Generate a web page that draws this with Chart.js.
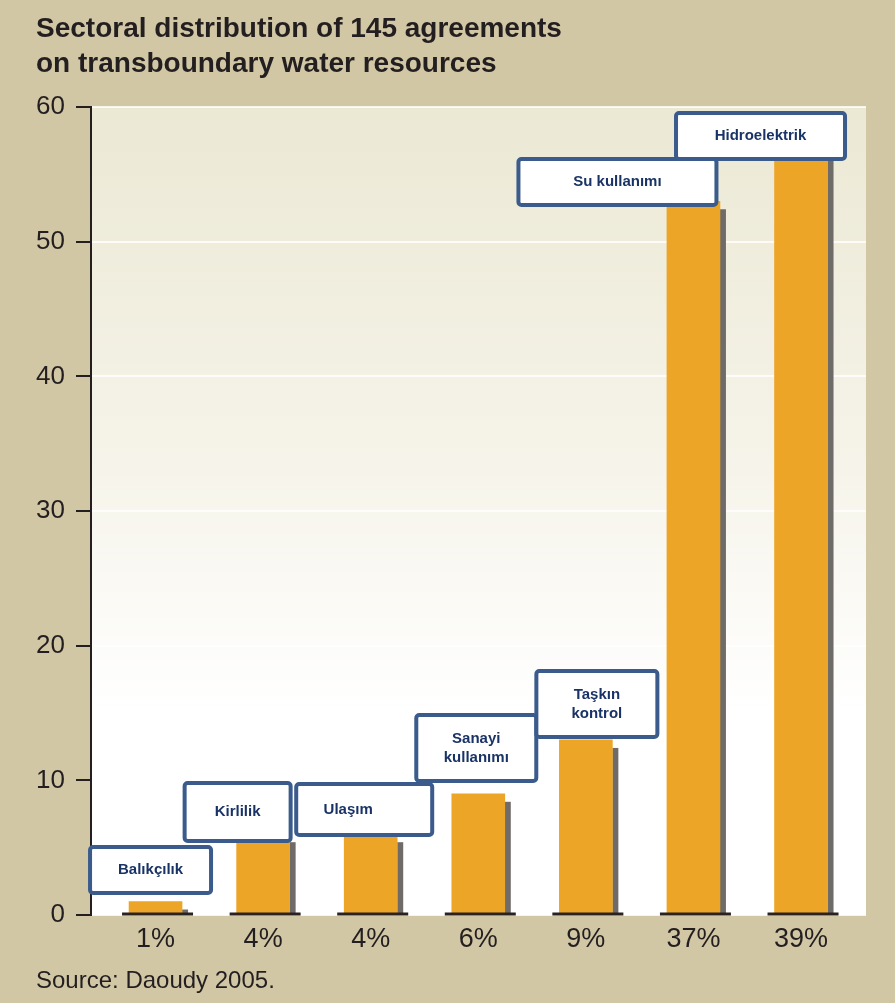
<!DOCTYPE html>
<html>
<head>
<meta charset="utf-8">
<script src="https://cdn.jsdelivr.net/npm/chart.js@4.4.1/dist/chart.umd.min.js"></script>
<style>
  body { margin: 0; background: #d2c7a5; }
  canvas { display: block; }
</style>
</head>
<body>
<canvas id="chart" width="895" height="1003"></canvas>
<script>
// データ
const sectors = ["Balıkçılık", "Kirlilik", "Ulaşım", ["Sanayi", "kullanımı"], ["Taşkın", "kontrol"], "Su kullanımı", "Hidroelektrik"];
const agreements = [1, 6, 6, 9, 13, 53, 57];
const shares = ["1%", "4%", "4%", "6%", "9%", "37%", "39%"];
const yTicks = [0, 10, 20, 30, 40, 50, 60];
const titleLines = ["Sectoral distribution of 145 agreements", "on transboundary water resources"];
const sourceText = "Source: Daoudy 2005.";

// ラベル枠の位置（棒の中心・上端からのオフセット）
const boxLayout = [
  { dx: -67.5, dy: -56.5, w: 125, h: 50 },
  { dx: -80.5, dy: -53.2, w: 110, h: 62 },
  { dx: -76.5, dy: -52.2, w: 140, h: 55, tx: 54 },
  { dx: -64, dy: -80.8, w: 124, h: 70 },
  { dx: -51.5, dy: -70.9, w: 125, h: 70 },
  { dx: -177, dy: -44.3, w: 202, h: 50 },
  { dx: -127, dy: -36.4, w: 173, h: 50 }
];

const FONT = '"Liberation Sans", Arial, Helvetica, sans-serif';
const INK = "#231f20";

const decor = {
  id: "decor",
  beforeDraw(chart) {
    const { ctx, chartArea: a } = chart;
    ctx.save();
    ctx.fillStyle = "#d2c7a5";
    ctx.fillRect(0, 0, chart.width, chart.height);
    const g = ctx.createLinearGradient(0, a.top, 0, a.bottom);
    g.addColorStop(0, "#ebe8d4");
    g.addColorStop(0.45, "#f6f4ea");
    g.addColorStop(0.75, "#ffffff");
    ctx.fillStyle = g;
    ctx.fillRect(a.left, a.top, a.right - a.left, a.bottom - a.top);

    ctx.fillStyle = INK;
    ctx.textBaseline = "alphabetic";
    ctx.textAlign = "left";
    ctx.font = "bold 28px " + FONT;
    ctx.fillText(titleLines[0], 36, 37);
    ctx.fillText(titleLines[1], 36, 72);
    ctx.font = "24px " + FONT;
    ctx.fillText(sourceText, 36, 988);
    ctx.restore();
  },
  beforeDatasetsDraw(chart) {
    // 棒の影
    const ctx = chart.ctx;
    ctx.save();
    ctx.fillStyle = "#6f6b69";
    chart.getDatasetMeta(0).data.forEach((bar) => {
      const p = bar.getProps(["x", "y", "base", "width"], true);
      ctx.fillRect(p.x + p.width / 2, p.y + 8, 6, p.base - p.y - 8);
    });
    ctx.restore();
  },
  afterDatasetsDraw(chart) {
    const ctx = chart.ctx;
    ctx.save();
    const bars = chart.getDatasetMeta(0).data;
    // 棒の下の黒い線
    ctx.fillStyle = "#2a2220";
    bars.forEach((bar) => {
      const p = bar.getProps(["x", "y", "base", "width"], true);
      ctx.fillRect(p.x - p.width / 2 - 7, p.base - 1.5, p.width + 18, 3);
    });
    // セクター名の枠
    bars.forEach((bar, i) => {
      const p = bar.getProps(["x", "y"], true);
      const b = boxLayout[i];
      const left = p.x + b.dx, top = p.y + b.dy;
      ctx.beginPath();
      ctx.roundRect(left + 2, top + 2, b.w - 4, b.h - 4, 3);
      ctx.fillStyle = "#ffffff";
      ctx.fill();
      ctx.lineWidth = 4;
      ctx.strokeStyle = "#3a5b8b";
      ctx.stroke();
      const lines = Array.isArray(sectors[i]) ? sectors[i] : [sectors[i]];
      ctx.fillStyle = "#1a3366";
      ctx.font = "bold 15px " + FONT;
      ctx.textAlign = "center";
      ctx.textBaseline = "middle";
      const cx = b.tx !== undefined ? left + b.tx : left + b.w / 2;
      const cy = top + b.h / 2;
      lines.forEach((t, k) => {
        ctx.fillText(t, cx, cy + (k - (lines.length - 1) / 2) * 19);
      });
    });
    ctx.restore();
  }
};

const ctx = document.getElementById("chart");

new Chart(ctx, {
  type: "bar",
  data: {
    datasets: [
      {
        data: agreements.map((v, i) => ({ x: i, y: v })),
        backgroundColor: "#eda527",
        barThickness: 53,
        borderWidth: 0
      }
    ]
  },
  options: {
    responsive: false,
    animation: false,
    layout: { padding: { top: 107, right: 29, bottom: 0, left: 0 } },
    scales: {
      x: {
        type: "linear",
        offset: false,
        min: -0.6,
        max: 6.604,
        afterBuildTicks: (s) => { s.ticks = shares.map((_, i) => ({ value: i })); },
        afterFit: (s) => { s.height = 88; },
        grid: { display: false, drawTicks: false },
        border: { display: false },
        ticks: {
          callback: (v) => shares[v],
          font: { size: 27, family: FONT },
          color: INK,
          padding: 8,
          autoSkip: false,
          maxRotation: 0
        }
      },
      y: {
        min: 0,
        max: 60,
        afterBuildTicks: (s) => { s.ticks = yTicks.map((v) => ({ value: v })); },
        afterFit: (s) => { s.width = 91; },
        grid: { color: "rgba(255,255,255,0.8)", lineWidth: 2, tickColor: INK, tickWidth: 2, tickLength: 15 },
        border: { display: true, color: INK, width: 2 },
        ticks: { font: { size: 26, family: FONT }, color: INK, padding: 11 }
      }
    },
    plugins: {
      legend: { display: false },
      tooltip: { enabled: false }
    }
  },
  plugins: [decor]
});
</script>
</body>
</html>
